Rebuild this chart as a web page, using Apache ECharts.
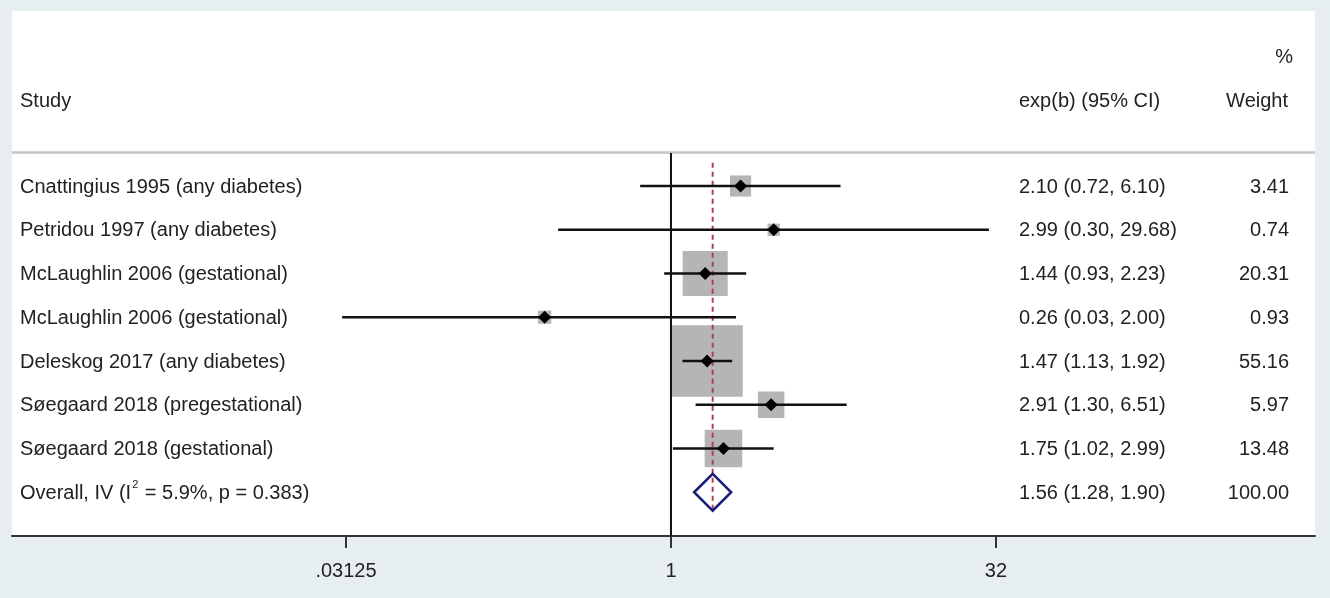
<!DOCTYPE html>
<html>
<head>
<meta charset="utf-8">
<title>Forest plot</title>
<script src="https://cdn.jsdelivr.net/npm/echarts@6/dist/echarts.min.js"></script>
<style>
  html, body { margin: 0; padding: 0; background: #e7eef1; }
  #chart { width: 1330px; height: 598px; }
</style>
</head>
<body>
<div id="chart"></div>
<script>
// Study rows, top to bottom
const studies = [
  'Cnattingius 1995 (any diabetes)',
  'Petridou 1997 (any diabetes)',
  'McLaughlin 2006 (gestational)',
  'McLaughlin 2006 (gestational)',
  'Deleskog 2017 (any diabetes)',
  'Søegaard 2018 (pregestational)',
  'Søegaard 2018 (gestational)'
];
const estimates = [2.10, 2.99, 1.44, 0.26, 1.47, 2.91, 1.75];
const lowerCI   = [0.72, 0.30, 0.93, 0.03, 1.13, 1.30, 1.02];
const upperCI   = [6.10, 29.68, 2.23, 2.00, 1.92, 6.51, 2.99];
const weights   = [3.41, 0.74, 20.31, 0.93, 55.16, 5.97, 13.48];

// Pooled (inverse-variance) estimate
const overallEstimate = 1.56;
const overallLower = 1.28;
const overallUpper = 1.90;
const overallWeight = 100.00;
const overallI2 = '5.9%';
const overallP = '0.383';

// Ratio axis ticks
const tickValues = [0.03125, 1, 32];
const tickLabels = ['.03125', '1', '32'];

const FONT = '"Liberation Sans", Arial, Helvetica, sans-serif';
const TEXT = '#222222';
const log2 = v => Math.log2(v);
const fmt = v => v.toFixed(2);

const overallRow = studies.length;

const rowData = studies.map((s, i) => [i, log2(estimates[i]), log2(lowerCI[i]), log2(upperCI[i]), weights[i]]);

const tableData = studies.map((s, i) => ({
  row: i,
  label: s,
  ci: fmt(estimates[i]) + ' (' + fmt(lowerCI[i]) + ', ' + fmt(upperCI[i]) + ')',
  weight: fmt(weights[i])
}));
tableData.push({
  row: overallRow,
  label: 'overall',
  ci: fmt(overallEstimate) + ' (' + fmt(overallLower) + ', ' + fmt(overallUpper) + ')',
  weight: fmt(overallWeight)
});

const chart = echarts.init(document.getElementById('chart'), null, { renderer: 'canvas' });

const DIAMOND_HALF = 18.5;
const TEXT_NUDGE = 1;

chart.setOption({
  backgroundColor: '#e7eef1',
  animation: false,
  grid: {
    left: 12, right: 15, top: 11, bottom: 62,
    show: true, backgroundColor: '#ffffff', borderWidth: 0
  },
  xAxis: {
    type: 'value',
    min: -10.138,
    max: 9.908,
    splitLine: { show: false },
    axisLine: { show: true, onZero: false, lineStyle: { color: '#333333', width: 2 } },
    axisTick: {
      show: true, length: 12, customValues: tickValues.map(log2),
      lineStyle: { color: '#333333', width: 2 }
    },
    axisLabel: {
      customValues: tickValues.map(log2),
      margin: 25,
      fontFamily: FONT, fontSize: 20, color: TEXT,
      formatter: v => {
        const idx = tickValues.findIndex(t => Math.abs(log2(t) - v) < 1e-9);
        return idx >= 0 ? tickLabels[idx] : '';
      }
    }
  },
  yAxis: {
    type: 'value', inverse: true, min: -4, max: 8, show: false
  },
  graphic: [
    { type: 'line', shape: { x1: 12, y1: 152.5, x2: 1315, y2: 152.5 },
      style: { stroke: '#c4c4c4', lineWidth: 2.5 }, z: 1 },
    { type: 'text', x: 20, y: 101, style: { text: 'Study', font: '20px ' + FONT, fill: TEXT, textVerticalAlign: 'middle' } },
    { type: 'text', x: 1019, y: 101, style: { text: 'exp(b) (95% CI)', font: '20px ' + FONT, fill: TEXT, textVerticalAlign: 'middle' } },
    { type: 'text', x: 1288, y: 101, style: { text: 'Weight', font: '20px ' + FONT, fill: TEXT, textAlign: 'right', textVerticalAlign: 'middle' } },
    { type: 'text', x: 1293, y: 57, style: { text: '%', font: '20px ' + FONT, fill: TEXT, textAlign: 'right', textVerticalAlign: 'middle' } }
  ],
  series: [
    // Weight boxes (area grows with study weight)
    {
      type: 'custom', z: 2, data: rowData,
      renderItem: (params, api) => {
        const c = api.coord([api.value(1), api.value(0)]);
        const size = 4.5 + 9 * Math.sqrt(api.value(4));
        return {
          type: 'rect',
          shape: { x: c[0] - size / 2, y: c[1] - size / 2, width: size, height: size },
          style: { fill: '#b5b5b5' }
        };
      }
    },
    // Null line at ratio 1 and dashed line at the pooled estimate
    {
      type: 'custom', z: 3, data: [[0]],
      renderItem: (params, api) => {
        const top = api.coord([0, -0.755]);
        const bot = api.coord([0, 8]);
        const xo = api.coord([log2(overallEstimate), -0.53]);
        const yo = api.coord([log2(overallEstimate), overallRow]);
        return {
          type: 'group',
          children: [
            { type: 'line', shape: { x1: top[0], y1: top[1], x2: bot[0], y2: bot[1] },
              style: { stroke: '#111111', lineWidth: 2 } },
            { type: 'line', shape: { x1: xo[0], y1: xo[1], x2: xo[0], y2: yo[1] + DIAMOND_HALF },
              style: { stroke: '#b0404e', lineWidth: 2, lineDash: [5, 4] } }
          ]
        };
      }
    },
    // Confidence intervals and point estimates
    {
      type: 'custom', z: 4, data: rowData,
      renderItem: (params, api) => {
        const row = api.value(0);
        const p = api.coord([api.value(1), row]);
        const a = api.coord([api.value(2), row]);
        const b = api.coord([api.value(3), row]);
        const h = 6.5;
        return {
          type: 'group',
          children: [
            { type: 'line', shape: { x1: a[0], y1: a[1], x2: b[0], y2: b[1] },
              style: { stroke: '#111111', lineWidth: 2.5 } },
            { type: 'polygon',
              shape: { points: [[p[0] - h, p[1]], [p[0], p[1] - h], [p[0] + h, p[1]], [p[0], p[1] + h]] },
              style: { fill: '#000000' } }
          ]
        };
      }
    },
    // Pooled estimate diamond
    {
      type: 'custom', z: 5,
      data: [[overallRow, log2(overallEstimate), log2(overallLower), log2(overallUpper)]],
      renderItem: (params, api) => {
        const row = api.value(0);
        const p = api.coord([api.value(1), row]);
        const a = api.coord([api.value(2), row]);
        const b = api.coord([api.value(3), row]);
        return {
          type: 'polygon',
          shape: { points: [[a[0], p[1]], [p[0], p[1] - DIAMOND_HALF], [b[0], p[1]], [p[0], p[1] + DIAMOND_HALF]] },
          style: { fill: 'none', stroke: '#1b1b7a', lineWidth: 2.5 }
        };
      }
    },
    // Table columns: study, estimate with CI, weight
    {
      type: 'custom', z: 6,
      data: tableData.map(d => [d.row]),
      renderItem: (params, api) => {
        const d = tableData[params.dataIndex];
        const y = api.coord([0, d.row])[1] + TEXT_NUDGE;
        const font = '20px ' + FONT;
        let labelEl;
        if (d.label === 'overall') {
          labelEl = {
            type: 'text', x: 20, y: y,
            style: {
              text: '{n|Overall, IV (I}{s|2}{n| = ' + overallI2 + ', p = ' + overallP + ')}',
              textVerticalAlign: 'middle',
              rich: {
                n: { font: font, fill: TEXT, verticalAlign: 'middle' },
                s: { font: '11px ' + FONT, fill: TEXT, padding: [0, 1, 16, 1], verticalAlign: 'middle' }
              }
            }
          };
        } else {
          labelEl = {
            type: 'text', x: 20, y: y,
            style: { text: d.label, font: font, fill: TEXT, textVerticalAlign: 'middle' }
          };
        }
        return {
          type: 'group',
          children: [
            labelEl,
            { type: 'text', x: 1019, y: y,
              style: { text: d.ci, font: font, fill: TEXT, textVerticalAlign: 'middle' } },
            { type: 'text', x: 1289, y: y,
              style: { text: d.weight, font: font, fill: TEXT, textAlign: 'right', textVerticalAlign: 'middle' } }
          ]
        };
      }
    }
  ]
});
</script>
</body>
</html>
